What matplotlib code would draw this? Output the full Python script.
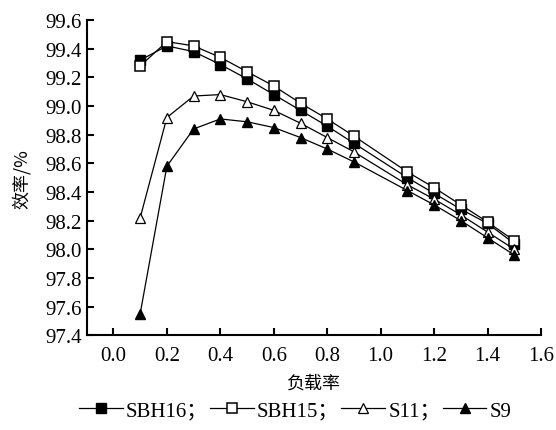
import matplotlib
matplotlib.use("Agg")
import matplotlib.pyplot as plt

x = [0.1, 0.2, 0.3, 0.4, 0.5, 0.6, 0.7, 0.8, 0.9, 1.1, 1.2, 1.3, 1.4, 1.5]
sbh16 = [99.32, 99.42, 99.38, 99.29, 99.19, 99.08, 98.97, 98.86, 98.74, 98.50, 98.39, 98.28, 98.18, 98.04]
sbh15 = [99.28, 99.45, 99.42, 99.34, 99.24, 99.14, 99.02, 98.91, 98.79, 98.54, 98.43, 98.31, 98.19, 98.06]
s11 = [98.22, 98.92, 99.07, 99.08, 99.03, 98.97, 98.88, 98.78, 98.68, 98.45, 98.35, 98.24, 98.12, 98.00]
s9 = [97.55, 98.58, 98.84, 98.91, 98.89, 98.85, 98.78, 98.70, 98.61, 98.41, 98.31, 98.20, 98.08, 97.96]
labels = ["SBH16；", "SBH15；", "S11；", "S9"]
xticks = [0.0, 0.2, 0.4, 0.6, 0.8, 1.0, 1.2, 1.4, 1.6]
yticks = [97.4, 97.6, 97.8, 98.0, 98.2, 98.4, 98.6, 98.8, 99.0, 99.2, 99.4, 99.6]

plt.rcParams['font.serif'] = ['Liberation Serif']
plt.rcParams['font.family'] = ['serif', 'Noto Sans CJK SC']
plt.rcParams['font.size'] = 15

fig = plt.figure(figsize=(5.56, 4.31), dpi=100)
ax = fig.add_axes([0.156, 0.22, 0.817, 0.731])

kw = dict(color='black', lw=0.9, ms=6.5)
l1, = ax.plot(x, sbh16, marker='s', mfc='black', mec='black', **kw)
l2, = ax.plot(x, sbh15, marker='s', mfc='white', mec='black', mew=1.1, **kw)
l3, = ax.plot(x, s11, marker='^', mfc='white', mec='black', mew=0.9, **kw)
l4, = ax.plot(x, s9, marker='^', mfc='black', mec='black', **kw)

ax.set_xlim(-0.1, 1.6)
ax.set_ylim(97.4, 99.6)
ax.set_xticks(xticks)
ax.set_xticklabels([f"{v:.1f}" for v in xticks])
ax.set_yticks(yticks)
ax.set_yticklabels([f"{v:.1f}" for v in yticks])
for s in ['top', 'right']:
    ax.spines[s].set_visible(False)
for s in ['left', 'bottom']:
    ax.spines[s].set_linewidth(1.5)
ax.tick_params(direction='in', length=5, width=1.5, labelsize=15)
ax.tick_params(axis='x', pad=8)

ax.set_xlabel("负载率", fontsize=13, labelpad=6, family=['Noto Sans CJK SC'])
ax.set_ylabel("效率/%", fontsize=13, labelpad=10, family=['Noto Sans CJK SC'])

fig.legend([l1, l2, l3, l4], labels, loc='lower center', bbox_to_anchor=(0.531, 0.0),
           ncol=4, frameon=False, handlelength=2.1, handletextpad=0.15,
           columnspacing=0.1, fontsize=15, borderaxespad=0.05)

fig.savefig("out.png", dpi=100)
